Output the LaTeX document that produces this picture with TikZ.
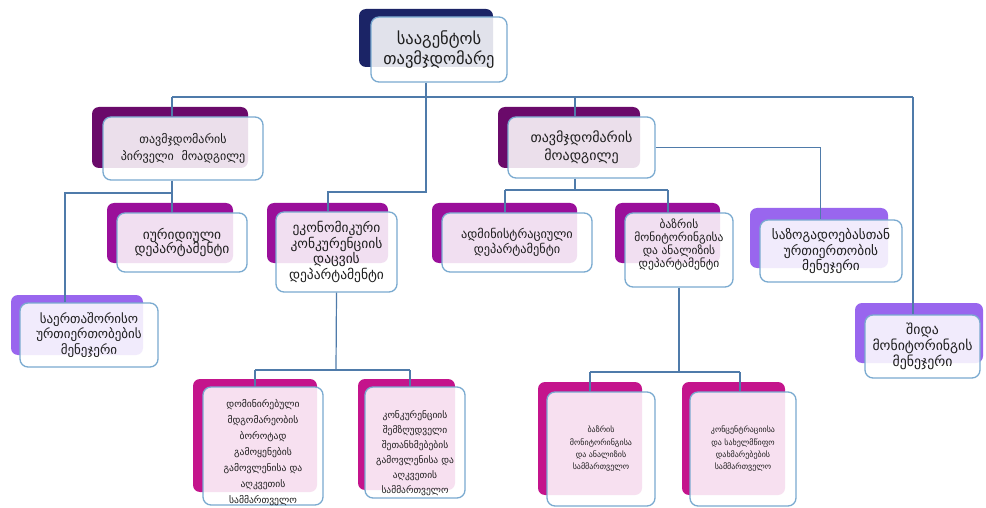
\documentclass[tikz,border=0pt]{standalone}
\usepackage{fontspec}
\newfontfamily\geo{DejaVu Sans}
\definecolor{navyback}{HTML}{1B2466}
\definecolor{plumback}{HTML}{6A0A6A}
\definecolor{purpleback}{HTML}{9A0F9A}
\definecolor{violetback}{HTML}{9966EE}
\definecolor{magback}{HTML}{C4148C}
\definecolor{edgeblue}{HTML}{7AAAD0}
\definecolor{linkblue}{HTML}{4F7BAA}
\definecolor{txt}{HTML}{1E1E1E}
\begin{document}
\begin{tikzpicture}[x=1pt,y=-1pt,
 backbox/.style={rounded corners=7pt},
 frontbox/.style={draw=edgeblue, line width=1.3pt, rounded corners=8pt, fill=white, fill opacity=0.87, text opacity=1, text=txt, align=center, inner sep=2pt},
 boxtext/.style={text=txt, align=center, inner sep=0pt},
 link/.style={draw=linkblue, line width=1.2pt}]
\useasboundingbox[fill=white] (0,0) rectangle (986,508);

% coordinates for connectors
\coordinate (bus) at (426,97);
\coordinate (busL) at (172,97);
\coordinate (busR) at (913,97);
\coordinate (ec) at (426,192);
\coordinate (ecL) at (328,192);
\coordinate (fj) at (172,193);
\coordinate (fjL) at (65,193);
\coordinate (dj) at (575,190);
\coordinate (djL) at (505,190);
\coordinate (djR) at (668,190);
\coordinate (ej) at (336,370);
\coordinate (ejL) at (255,370);
\coordinate (ejR) at (410,370);
\coordinate (mj) at (679,372);
\coordinate (mjL) at (590,372);
\coordinate (mjR) at (740,372);

% back boxes
\fill[backbox,navyback] (359,9) rectangle (493,67);
\fill[backbox,plumback] (92,107) rectangle (248,168);
\fill[backbox,plumback] (498,107) rectangle (640,168);
\fill[backbox,purpleback] (107,203) rectangle (233,263);
\fill[backbox,purpleback] (267,203) rectangle (388,263);
\fill[backbox,purpleback] (432,203) rectangle (577,263);
\fill[backbox,purpleback] (615,203) rectangle (720,263);
\fill[backbox,violetback] (750,208) rectangle (888,268);
\fill[backbox,violetback] (11,295) rectangle (143,355);
\fill[backbox,violetback] (855,303) rectangle (983,363);
\fill[backbox,magback] (193,379) rectangle (317,492);
\fill[backbox,magback] (358,379) rectangle (455,490);
\fill[backbox,magback] (538,382) rectangle (642,495);
\fill[backbox,magback] (682,382) rectangle (785,495);

% front boxes
\node[frontbox, minimum width=136pt, minimum height=65pt, font=\geo\fontsize{16.5}{20}\selectfont] (n1) at (439,49.5) {სააგენტოს\\თავმჯდომარე};
\node[frontbox, minimum width=160pt, minimum height=63pt, font=\geo\fontsize{12}{17}\selectfont] (n2) at (183,148.5) {თავმჯდომარის\\პირველი\ \ მოადგილე};
\node[frontbox, minimum width=147pt, minimum height=61pt, font=\geo\fontsize{14}{18}\selectfont] (n3) at (581.5,147.5) {თავმჯდომარის\\მოადგილე};
\node[frontbox, minimum width=130pt, minimum height=59pt, font=\geo\fontsize{13.5}{14.5}\selectfont] (n4) at (182,242.5) {იურიდიული\\დეპარტამენტი};
\node[frontbox, minimum width=121pt, minimum height=80pt, font=\geo\fontsize{13.5}{15.5}\selectfont] (n5) at (336.5,252) {ეკონომიკური\\კონკურენციის\\დაცვის\\დეპარტამენტი};
\node[frontbox, minimum width=150pt, minimum height=59pt, font=\geo\fontsize{12.3}{14.5}\selectfont] (n6) at (517,242.5) {ადმინისტრაციული\\დეპარტამენტი};
\node[frontbox, minimum width=108pt, minimum height=74pt] (n7) at (679,250) {};
\node[boxtext, font=\geo\fontsize{11.5}{13}\selectfont] (t7) at (679,245) {ბაზრის\\მონიტორინგისა\\და ანალიზის\\დეპარტამენტი};
\node[frontbox, minimum width=142pt, minimum height=62pt, font=\geo\fontsize{13.3}{15.5}\selectfont] (n8) at (831,251) {საზოგადოებასთან\\ურთიერთობის\\მენეჯერი};
\node[frontbox, minimum width=138pt, minimum height=64pt, font=\geo\fontsize{13}{15.5}\selectfont] (n9) at (89,335) {საერთაშორისო\\ურთიერთობების\\მენეჯერი};
\node[frontbox, minimum width=115pt, minimum height=63pt, font=\geo\fontsize{13.8}{16}\selectfont] (n10) at (922.5,346.5) {შიდა\\მონიტორინგის\\მენეჯერი};
\node[frontbox, minimum width=120pt, minimum height=118pt] (n11) at (263,446) {};
\node[boxtext, font=\geo\fontsize{9.6}{16}\selectfont] (t11) at (263,453) {დომინირებული\\მდგომარეობის\\ბოროტად\\გამოყენების\\გამოვლენისა და\\აღკვეთის\\სამმართველო};
\node[frontbox, minimum width=100pt, minimum height=111pt] (n12) at (415,442.5) {};
\node[boxtext, font=\geo\fontsize{9.5}{15}\selectfont] (t12) at (415,453) {კონკურენციის\\შემზღუდველი\\შეთანხმებების\\გამოვლენისა და\\აღკვეთის\\სამმართველო};
\node[frontbox, minimum width=108pt, minimum height=114pt, font=\geo\fontsize{8}{12.3}\selectfont] (n13) at (601,449) {ბაზრის\\მონიტორინგისა\\და ანალიზის\\სამმართველო};
\node[frontbox, minimum width=106pt, minimum height=114pt, font=\geo\fontsize{8}{12.3}\selectfont] (n14) at (743,449) {კონცენტრაციისა\\და სახელმწიფო\\დახმარებების\\სამმართველო};

% connectors
\draw[link] ([xshift=-13pt]n1.south) -- (ec) -- (ecL) -- (ecL |- n5.north);
\draw[link] (busL) -- (busR);
\draw[link] (busL) -- (busL |- n2.north);
\draw[link] (busR) -- (busR |- n10.north);
\draw[link] ([xshift=-6.5pt]n3.north) -- ([xshift=-6.5pt]n3.north |- bus);
\draw[link] ([xshift=-11pt]n2.south) -- ([xshift=-11pt]n2.south |- n4.north);
\draw[link] (fj) -- (fjL) -- (fjL |- n9.north);
\draw[link] (n3.south -| dj) -- (dj);
\draw[link] (djL) -- (djR);
\draw[link] (djL) -- (djL |- n6.north);
\draw[link] (djR) -- (djR |- n7.north);
\draw[link, line width=0.6pt] (n3.east) -| ([xshift=-11pt]n8.north);
\draw[link] (n5.south) -- (ej);
\draw[link] (ejL) -- (ejR);
\draw[link] (ejL) -- (ejL |- n11.north);
\draw[link] (ejR) -- (ejR |- n12.north);
\draw[link] (n7.south) -- (mj);
\draw[link] (mjL) -- (mjR);
\draw[link] (mjL) -- (mjL |- n13.north);
\draw[link] (mjR) -- (mjR |- n14.north);
\end{tikzpicture}
\end{document}
